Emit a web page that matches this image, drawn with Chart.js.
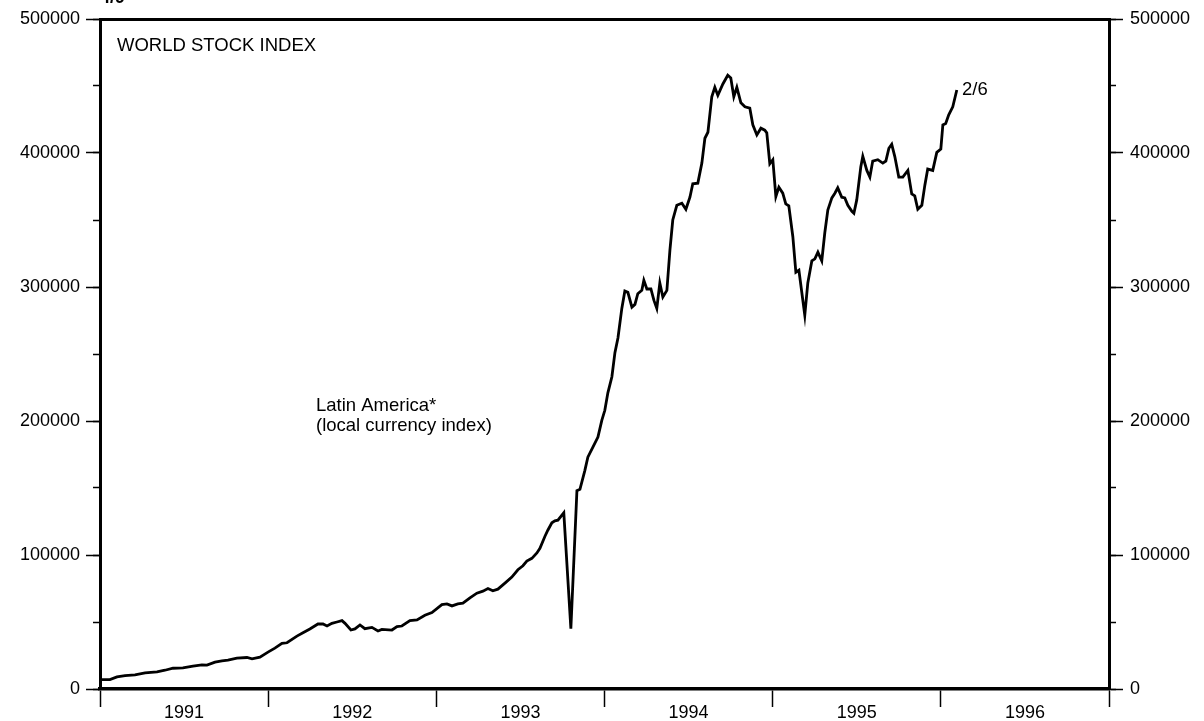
<!DOCTYPE html>
<html>
<head>
<meta charset="utf-8">
<script src="https://cdn.jsdelivr.net/npm/chart.js@4.4.1/dist/chart.umd.min.js"></script>
<style>
  html, body { margin: 0; padding: 0; background: #fff; }
  #wrap { width: 1204px; height: 721px; position: relative; }
</style>
</head>
<body>
<div id="wrap"><canvas id="chart"></canvas></div>
<script>
// decimal years
const YEARS = [
  1991.006, 1991.059, 1991.101, 1991.149, 1991.208, 1991.268, 1991.339, 1991.386, 1991.434, 1991.493,
  1991.553, 1991.606, 1991.636, 1991.684, 1991.725, 1991.761, 1991.814, 1991.874, 1991.904, 1991.951,
  1991.999, 1992.040, 1992.082, 1992.112, 1992.171, 1992.207, 1992.248, 1992.296, 1992.326, 1992.350,
  1992.379, 1992.409, 1992.439, 1992.457, 1992.492, 1992.516, 1992.546, 1992.575, 1992.617, 1992.653,
  1992.676, 1992.736, 1992.766, 1992.795, 1992.843, 1992.885, 1992.932, 1992.974, 1993.033, 1993.063,
  1993.093, 1993.128, 1993.158, 1993.200, 1993.241, 1993.277, 1993.307, 1993.336, 1993.366, 1993.408,
  1993.449, 1993.485, 1993.515, 1993.538, 1993.568, 1993.598, 1993.616, 1993.646, 1993.663, 1993.687,
  1993.705, 1993.723, 1993.758, 1993.800, 1993.836, 1993.854, 1993.883, 1993.901, 1993.931, 1993.961,
  1993.984, 1994.002, 1994.020, 1994.044, 1994.062, 1994.080, 1994.103, 1994.121, 1994.139, 1994.163,
  1994.181, 1994.198, 1994.222, 1994.234, 1994.252, 1994.276, 1994.294, 1994.311, 1994.329, 1994.347,
  1994.371, 1994.389, 1994.406, 1994.430, 1994.460, 1994.484, 1994.508, 1994.525, 1994.555, 1994.579,
  1994.597, 1994.615, 1994.638, 1994.656, 1994.674, 1994.704, 1994.733, 1994.751, 1994.769, 1994.787,
  1994.811, 1994.835, 1994.864, 1994.882, 1994.906, 1994.930, 1994.953, 1994.965, 1994.983, 1995.001,
  1995.019, 1995.037, 1995.060, 1995.078, 1995.096, 1995.120, 1995.138, 1995.156, 1995.191, 1995.209,
  1995.233, 1995.251, 1995.269, 1995.292, 1995.310, 1995.328, 1995.352, 1995.370, 1995.387, 1995.411,
  1995.429, 1995.447, 1995.471, 1995.483, 1995.500, 1995.524, 1995.536, 1995.560, 1995.578, 1995.595,
  1995.625, 1995.655, 1995.673, 1995.691, 1995.708, 1995.726, 1995.750, 1995.774, 1995.804, 1995.827,
  1995.845, 1995.863, 1995.887, 1995.905, 1995.922, 1995.952, 1995.976, 1996.000, 1996.012, 1996.029,
  1996.047, 1996.071, 1996.095
];

// Latin America local currency index
const INDEX = [
  7000, 7000, 9000, 10000, 10500, 12000, 12700, 14000, 15500, 15700,
  17000, 18000, 17800, 20000, 21000, 21500, 23000, 23500, 22500, 23800,
  27500, 30500, 34000, 34500, 39500, 42000, 44800, 48500, 48500, 47000,
  49000, 50000, 51000, 49000, 44000, 44800, 47800, 45000, 46000, 43300,
  44500, 44000, 46500, 47000, 51000, 51500, 55000, 57000, 63000, 63500,
  62000, 63500, 64000, 68000, 71500, 73000, 75000, 73300, 74500, 79000,
  83500, 89000, 92000, 95500, 97500, 101500, 105000, 114000, 118500, 124000,
  125500, 126000, 131500, 45000, 148000, 149000, 163000, 173000, 180500, 188000,
  200500, 208000, 221000, 233000, 251000, 262000, 284000, 297000, 296000, 285000,
  287000, 295000, 297500, 305000, 298500, 298500, 290000, 284000, 303000, 292500,
  297500, 327500, 350000, 361000, 362500, 358000, 367000, 377000, 377500, 392500,
  411000, 415500, 442000, 449000, 443000, 451500, 458000, 456000, 442000, 449000,
  437500, 434500, 433500, 421000, 413500, 418500, 417000, 415000, 392000, 395000,
  367500, 374500, 370000, 362000, 360500, 337500, 311000, 312500, 279000, 303000,
  319500, 321000, 326000, 319500, 340500, 357500, 366500, 370000, 374000, 367000,
  366500, 361000, 356500, 355000, 365000, 389500, 397500, 387000, 382000, 394000,
  395000, 392500, 394000, 403500, 406500, 397500, 382000, 382000, 387000, 369500,
  368000, 358000, 361000, 376000, 388000, 387000, 400500, 403000, 421000, 422000,
  428500, 434500, 447000
];

const YEAR_TICKS = [1991, 1992, 1993, 1994, 1995, 1996, 1997];
const Y_MIN = 0, Y_MAX = 500000, Y_STEP = 100000, Y_MINOR = 50000;

const FONT = '"Liberation Sans", Arial, sans-serif';
Chart.defaults.font.family = FONT;
Chart.defaults.font.size = 18;
Chart.defaults.color = '#000';

// year label sits in the middle of each year
const xTicks = [];
YEAR_TICKS.forEach((y, i) => {
  xTicks.push({ value: y });
  if (i < YEAR_TICKS.length - 1) xTicks.push({ value: y + 0.5 });
});

const notes = {
  id: 'notes',
  afterDraw(chart) {
    const c = chart.ctx;
    c.save();
    c.fillStyle = '#000';
    c.textBaseline = 'alphabetic';
    c.font = '18.5px ' + FONT;
    c.fillText('WORLD STOCK INDEX', 117, 51);
    c.fillText('Latin America*', 316, 411);
    c.fillText('(local currency index)', 316, 431);
    c.fillText('2/6', 962, 95);
    c.font = 'bold 18px ' + FONT;
    c.fillText('4/9', 100, 3);
    c.restore();
  }
};

const minorAxis = (position) => ({
  position, min: Y_MIN, max: Y_MAX, weight: 0,
  ticks: { display: false, stepSize: Y_MINOR },
  grid: { drawOnChartArea: false, tickLength: 7, tickWidth: 1.5, tickColor: '#000' },
  border: { display: false },
  afterFit: s => { s.width = 0; }
});

const plain = v => String(v);

new Chart(document.getElementById('chart'), {
  type: 'line',
  data: {
    datasets: [{
      data: YEARS.map((x, i) => ({ x, y: INDEX[i] })),
      borderColor: '#000',
      borderWidth: 2.8,
      pointRadius: 0,
      tension: 0,
      fill: false
    }]
  },
  plugins: [notes],
  options: {
    responsive: true,
    maintainAspectRatio: false,
    animation: false,
    layout: { padding: { top: 19, left: 0, right: 0, bottom: 0 } },
    plugins: { legend: { display: false }, tooltip: { enabled: false } },
    scales: {
      x: {
        type: 'linear', position: 'bottom', min: 1991, max: 1997,
        afterBuildTicks: s => { s.ticks = xTicks.map(t => ({ ...t })); },
        ticks: {
          autoSkip: false, maxRotation: 0, padding: -5,
          callback: v => (v % 1 === 0.5 ? String(Math.floor(v)) : '')
        },
        grid: {
          drawOnChartArea: false, tickLength: 18, tickWidth: 1.5,
          tickColor: ctx => (ctx.tick && ctx.tick.value % 1 === 0 ? '#000' : 'rgba(0,0,0,0)')
        },
        border: { width: 3.5, color: '#000' },
        afterFit: s => { s.height = 32; }
      },
      xTop: {
        type: 'linear', position: 'top', min: 1991, max: 1997,
        ticks: { display: false },
        grid: { drawOnChartArea: false, drawTicks: false },
        border: { width: 3, color: '#000' },
        afterFit: s => { s.height = 0; }
      },
      y: {
        position: 'left', min: Y_MIN, max: Y_MAX, weight: 1,
        ticks: { stepSize: Y_STEP, padding: 6, callback: plain },
        grid: { drawOnChartArea: false, tickLength: 14, tickWidth: 1.5, tickColor: '#000' },
        border: { width: 3, color: '#000' },
        afterFit: s => { s.width = 100; }
      },
      yMinor: minorAxis('left'),
      yR: {
        position: 'right', min: Y_MIN, max: Y_MAX, weight: 1,
        ticks: { stepSize: Y_STEP, padding: 7, callback: plain },
        grid: { drawOnChartArea: false, tickLength: 14, tickWidth: 1.5, tickColor: '#000' },
        border: { width: 3, color: '#000' },
        afterFit: s => { s.width = 95; }
      },
      yRMinor: minorAxis('right')
    }
  }
});
</script>
</body>
</html>
